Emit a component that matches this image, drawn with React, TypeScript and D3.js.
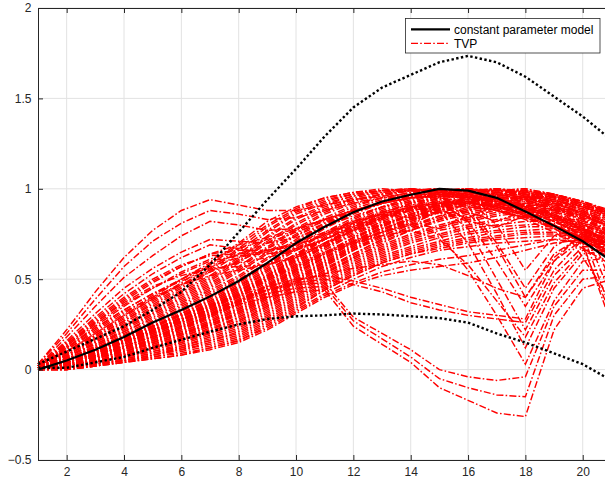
import { useEffect, useRef } from 'react';
import * as d3 from 'd3';

// horizon (x axis) and tick marks
const horizon = [1, 2, 3, 4, 5, 6, 7, 8, 9, 10, 11, 12, 13, 14, 15, 16, 17, 18, 19, 20, 21];
const xTicks = [2, 4, 6, 8, 10, 12, 14, 16, 18, 20];
const yTicks = [-0.5, 0, 0.5, 1, 1.5, 2];
const legendLabels = ['constant parameter model', 'TVP'];

// constant parameter model + its bands (black)
const constantModel = [0, 0.05, 0.11, 0.18, 0.26, 0.33, 0.405, 0.49, 0.59, 0.7, 0.79, 0.87, 0.93, 0.967, 1.0, 0.99, 0.95, 0.875, 0.795, 0.71, 0.6];
const upperBand = [0.03, 0.1, 0.17, 0.24, 0.33, 0.43, 0.58, 0.76, 0.94, 1.11, 1.29, 1.45, 1.56, 1.63, 1.7, 1.735, 1.7, 1.62, 1.51, 1.4, 1.27];
const lowerBand = [0.01, 0.01, 0.04, 0.07, 0.12, 0.165, 0.21, 0.25, 0.28, 0.295, 0.3, 0.31, 0.305, 0.295, 0.285, 0.26, 0.2, 0.15, 0.09, 0.03, -0.06];

const tvpMain = [
  [0.04, 0.1, 0.2, 0.3, 0.4, 0.5, 0.59, 0.7, 0.82, 0.9, 0.95, 0.98, 1.0, 0.99, 0.97, 0.94, 0.9, 0.85, 0.79, 0.72, 0.64],
  [0.03, 0.09, 0.19, 0.28, 0.38, 0.47, 0.56, 0.67, 0.79, 0.88, 0.94, 0.97, 0.99, 1.0, 0.98, 0.95, 0.91, 0.86, 0.8, 0.73, 0.65],
  [0.03, 0.09, 0.18, 0.27, 0.36, 0.45, 0.54, 0.64, 0.76, 0.86, 0.92, 0.96, 0.99, 1.0, 0.99, 0.96, 0.92, 0.88, 0.82, 0.75, 0.67],
  [0.03, 0.08, 0.17, 0.25, 0.34, 0.43, 0.51, 0.61, 0.73, 0.83, 0.9, 0.95, 0.98, 1.0, 0.99, 0.97, 0.94, 0.89, 0.84, 0.77, 0.69],
  [0.02, 0.08, 0.16, 0.24, 0.32, 0.41, 0.49, 0.59, 0.7, 0.8, 0.88, 0.94, 0.97, 0.99, 1.0, 0.98, 0.95, 0.91, 0.86, 0.79, 0.71],
  [0.02, 0.07, 0.15, 0.23, 0.31, 0.39, 0.47, 0.56, 0.67, 0.77, 0.86, 0.92, 0.96, 0.99, 1.0, 0.99, 0.96, 0.92, 0.87, 0.81, 0.73],
  [0.02, 0.07, 0.14, 0.21, 0.29, 0.37, 0.45, 0.54, 0.64, 0.74, 0.83, 0.9, 0.95, 0.98, 1.0, 0.99, 0.97, 0.94, 0.89, 0.83, 0.75],
  [0.02, 0.06, 0.13, 0.2, 0.27, 0.35, 0.43, 0.51, 0.61, 0.71, 0.8, 0.88, 0.93, 0.97, 0.99, 1.0, 0.98, 0.95, 0.9, 0.84, 0.77],
  [0.01, 0.06, 0.12, 0.19, 0.26, 0.33, 0.41, 0.49, 0.58, 0.68, 0.78, 0.86, 0.92, 0.96, 0.99, 1.0, 0.99, 0.96, 0.92, 0.86, 0.79],
  [0.01, 0.05, 0.11, 0.18, 0.24, 0.31, 0.39, 0.47, 0.56, 0.66, 0.75, 0.83, 0.9, 0.95, 0.98, 1.0, 0.99, 0.97, 0.93, 0.88, 0.81],
  [0.01, 0.05, 0.11, 0.17, 0.23, 0.3, 0.37, 0.45, 0.53, 0.63, 0.73, 0.81, 0.88, 0.93, 0.97, 0.99, 1.0, 0.98, 0.95, 0.9, 0.83],
  [0.01, 0.04, 0.1, 0.16, 0.22, 0.28, 0.35, 0.43, 0.51, 0.61, 0.7, 0.79, 0.86, 0.92, 0.96, 0.98, 1.0, 0.99, 0.96, 0.91, 0.85],
  [0.01, 0.04, 0.09, 0.15, 0.2, 0.26, 0.33, 0.41, 0.49, 0.58, 0.68, 0.77, 0.84, 0.9, 0.95, 0.98, 0.99, 1.0, 0.97, 0.92, 0.86],
  [0.01, 0.04, 0.08, 0.14, 0.19, 0.25, 0.31, 0.39, 0.47, 0.56, 0.66, 0.75, 0.82, 0.88, 0.93, 0.96, 0.98, 0.99, 0.97, 0.93, 0.87],
  [0.0, 0.03, 0.08, 0.13, 0.18, 0.23, 0.3, 0.37, 0.45, 0.54, 0.63, 0.72, 0.8, 0.86, 0.91, 0.95, 0.97, 0.98, 0.96, 0.92, 0.87],
  [0.0, 0.03, 0.07, 0.12, 0.16, 0.22, 0.28, 0.35, 0.43, 0.52, 0.61, 0.7, 0.78, 0.84, 0.89, 0.93, 0.96, 0.97, 0.95, 0.91, 0.86],
  [0.0, 0.03, 0.06, 0.11, 0.15, 0.2, 0.26, 0.33, 0.41, 0.5, 0.59, 0.68, 0.76, 0.82, 0.87, 0.91, 0.94, 0.95, 0.94, 0.9, 0.85],
  [0.0, 0.02, 0.06, 0.1, 0.14, 0.19, 0.25, 0.31, 0.39, 0.48, 0.57, 0.66, 0.73, 0.79, 0.84, 0.88, 0.91, 0.93, 0.92, 0.89, 0.84],
  [0.0, 0.02, 0.05, 0.09, 0.13, 0.17, 0.23, 0.29, 0.37, 0.46, 0.55, 0.63, 0.71, 0.77, 0.82, 0.86, 0.89, 0.91, 0.9, 0.87, 0.82],
  [0.0, 0.02, 0.05, 0.08, 0.12, 0.16, 0.21, 0.27, 0.35, 0.44, 0.53, 0.61, 0.68, 0.74, 0.79, 0.83, 0.86, 0.88, 0.88, 0.85, 0.8],
  [0.0, 0.01, 0.04, 0.07, 0.11, 0.15, 0.2, 0.25, 0.33, 0.42, 0.51, 0.59, 0.66, 0.72, 0.77, 0.8, 0.83, 0.85, 0.85, 0.82, 0.77],
  [0.0, 0.01, 0.04, 0.07, 0.1, 0.13, 0.18, 0.23, 0.31, 0.4, 0.49, 0.57, 0.64, 0.7, 0.74, 0.78, 0.8, 0.82, 0.82, 0.8, 0.75],
  [0.0, 0.01, 0.03, 0.06, 0.09, 0.12, 0.16, 0.21, 0.29, 0.38, 0.47, 0.55, 0.62, 0.67, 0.71, 0.75, 0.77, 0.79, 0.79, 0.77, 0.72],
  [0.0, 0.0, 0.03, 0.05, 0.08, 0.11, 0.15, 0.19, 0.27, 0.36, 0.45, 0.53, 0.6, 0.65, 0.69, 0.72, 0.74, 0.76, 0.76, 0.74, 0.7],
  [0.0, 0.0, 0.02, 0.04, 0.07, 0.1, 0.13, 0.17, 0.25, 0.34, 0.44, 0.52, 0.59, 0.64, 0.67, 0.7, 0.72, 0.73, 0.74, 0.72, 0.68],
  [0.0, 0.0, 0.02, 0.04, 0.06, 0.08, 0.12, 0.16, 0.24, 0.33, 0.42, 0.5, 0.57, 0.62, 0.66, 0.68, 0.7, 0.71, 0.72, 0.7, 0.66],
  [0.0, 0.0, 0.02, 0.04, 0.06, 0.08, 0.11, 0.15, 0.22, 0.31, 0.4, 0.47, 0.52, 0.55, 0.57, 0.59, 0.62, 0.66, 0.7, 0.72, 0.7],
  [0.0, 0.01, 0.03, 0.05, 0.07, 0.09, 0.12, 0.16, 0.23, 0.32, 0.41, 0.48, 0.54, 0.58, 0.61, 0.63, 0.66, 0.69, 0.72, 0.73, 0.7],
];

const tvpMainB = [
  [0.03, 0.1, 0.19, 0.29, 0.39, 0.48, 0.58, 0.69, 0.8, 0.89, 0.95, 0.98, 0.99, 1.0, 0.98, 0.95, 0.91, 0.86, 0.8, 0.72, 0.63],
  [0.03, 0.09, 0.18, 0.27, 0.37, 0.46, 0.55, 0.66, 0.77, 0.87, 0.93, 0.97, 0.99, 0.99, 0.98, 0.96, 0.93, 0.88, 0.82, 0.74, 0.66],
  [0.02, 0.08, 0.17, 0.26, 0.35, 0.44, 0.52, 0.62, 0.74, 0.84, 0.91, 0.96, 0.98, 0.99, 0.99, 0.97, 0.94, 0.9, 0.85, 0.78, 0.7],
  [0.02, 0.08, 0.16, 0.24, 0.33, 0.42, 0.5, 0.6, 0.71, 0.81, 0.89, 0.94, 0.97, 0.99, 1.0, 0.98, 0.95, 0.91, 0.86, 0.8, 0.72],
  [0.02, 0.07, 0.15, 0.23, 0.31, 0.4, 0.48, 0.57, 0.68, 0.78, 0.87, 0.93, 0.97, 0.99, 1.0, 0.99, 0.96, 0.93, 0.88, 0.82, 0.74],
  [0.02, 0.07, 0.14, 0.22, 0.3, 0.38, 0.46, 0.55, 0.65, 0.75, 0.84, 0.91, 0.95, 0.98, 0.99, 1.0, 0.97, 0.94, 0.89, 0.83, 0.76],
  [0.01, 0.06, 0.13, 0.21, 0.28, 0.36, 0.44, 0.52, 0.62, 0.72, 0.81, 0.89, 0.94, 0.97, 0.99, 1.0, 0.98, 0.95, 0.91, 0.85, 0.78],
  [0.01, 0.06, 0.12, 0.19, 0.26, 0.34, 0.42, 0.5, 0.59, 0.69, 0.79, 0.87, 0.92, 0.96, 0.98, 0.99, 0.99, 0.97, 0.92, 0.87, 0.8],
  [0.01, 0.05, 0.12, 0.18, 0.25, 0.32, 0.4, 0.48, 0.57, 0.67, 0.76, 0.84, 0.9, 0.95, 0.98, 0.99, 1.0, 0.97, 0.94, 0.89, 0.82],
  [0.01, 0.05, 0.11, 0.17, 0.24, 0.31, 0.38, 0.46, 0.55, 0.64, 0.74, 0.82, 0.89, 0.94, 0.97, 0.99, 1.0, 0.98, 0.95, 0.9, 0.84],
  [0.01, 0.05, 0.1, 0.16, 0.22, 0.29, 0.36, 0.44, 0.52, 0.62, 0.72, 0.8, 0.87, 0.92, 0.96, 0.98, 0.99, 0.99, 0.96, 0.91, 0.85],
  [0.01, 0.04, 0.09, 0.15, 0.21, 0.27, 0.34, 0.42, 0.5, 0.6, 0.69, 0.78, 0.85, 0.91, 0.95, 0.97, 0.99, 1.0, 0.97, 0.92, 0.86],
  [0.0, 0.04, 0.09, 0.14, 0.2, 0.26, 0.32, 0.4, 0.48, 0.57, 0.67, 0.76, 0.83, 0.89, 0.94, 0.97, 0.99, 0.99, 0.97, 0.93, 0.87],
  [0.0, 0.03, 0.08, 0.13, 0.18, 0.24, 0.3, 0.38, 0.46, 0.55, 0.64, 0.73, 0.81, 0.87, 0.92, 0.95, 0.97, 0.98, 0.97, 0.93, 0.88],
  [0.0, 0.03, 0.07, 0.12, 0.17, 0.22, 0.29, 0.36, 0.44, 0.53, 0.62, 0.71, 0.79, 0.85, 0.9, 0.94, 0.96, 0.97, 0.96, 0.92, 0.87],
  [0.0, 0.03, 0.07, 0.11, 0.16, 0.21, 0.27, 0.34, 0.42, 0.51, 0.6, 0.69, 0.77, 0.83, 0.88, 0.92, 0.95, 0.96, 0.95, 0.91, 0.86],
  [0.0, 0.02, 0.06, 0.1, 0.15, 0.2, 0.25, 0.32, 0.4, 0.49, 0.58, 0.67, 0.74, 0.8, 0.85, 0.89, 0.92, 0.94, 0.93, 0.9, 0.85],
  [0.0, 0.02, 0.05, 0.09, 0.13, 0.18, 0.24, 0.3, 0.38, 0.47, 0.56, 0.64, 0.72, 0.78, 0.83, 0.87, 0.9, 0.92, 0.91, 0.88, 0.83],
  [0.0, 0.02, 0.05, 0.08, 0.12, 0.17, 0.22, 0.28, 0.36, 0.45, 0.54, 0.62, 0.69, 0.75, 0.8, 0.84, 0.87, 0.89, 0.89, 0.86, 0.81],
  [0.0, 0.01, 0.04, 0.08, 0.11, 0.15, 0.2, 0.26, 0.34, 0.43, 0.52, 0.6, 0.67, 0.73, 0.78, 0.82, 0.85, 0.87, 0.87, 0.84, 0.79],
  [0.0, 0.01, 0.04, 0.07, 0.1, 0.14, 0.19, 0.24, 0.32, 0.41, 0.5, 0.58, 0.65, 0.71, 0.75, 0.79, 0.82, 0.84, 0.84, 0.81, 0.76],
  [0.0, 0.01, 0.03, 0.06, 0.09, 0.13, 0.17, 0.22, 0.3, 0.39, 0.48, 0.56, 0.63, 0.68, 0.73, 0.76, 0.79, 0.8, 0.81, 0.78, 0.74],
  [0.0, 0.0, 0.03, 0.05, 0.08, 0.12, 0.16, 0.2, 0.28, 0.37, 0.46, 0.54, 0.61, 0.66, 0.7, 0.73, 0.76, 0.77, 0.78, 0.76, 0.71],
  [0.0, 0.0, 0.02, 0.05, 0.08, 0.11, 0.14, 0.18, 0.26, 0.35, 0.44, 0.52, 0.59, 0.64, 0.68, 0.71, 0.73, 0.75, 0.75, 0.73, 0.69],
];

const tvpNoisy = [
  [0.01, 0.05, 0.11, 0.17, 0.24, 0.31, 0.38, 0.46, 0.55, 0.64, 0.72, 0.8, 0.84, 0.9, 0.86, 0.92, 0.95, 0.9, 0.93, 0.86, 0.78],
  [0.01, 0.04, 0.09, 0.15, 0.21, 0.27, 0.34, 0.42, 0.51, 0.6, 0.68, 0.74, 0.82, 0.8, 0.88, 0.84, 0.91, 0.96, 0.9, 0.84, 0.76],
  [0.02, 0.06, 0.12, 0.19, 0.26, 0.33, 0.4, 0.48, 0.58, 0.67, 0.75, 0.82, 0.86, 0.84, 0.9, 0.93, 0.88, 0.92, 0.94, 0.88, 0.8],
  [0.0, 0.03, 0.07, 0.12, 0.17, 0.23, 0.29, 0.36, 0.45, 0.54, 0.62, 0.7, 0.76, 0.81, 0.78, 0.85, 0.88, 0.84, 0.89, 0.85, 0.79],
  [0.01, 0.05, 0.1, 0.16, 0.22, 0.29, 0.36, 0.44, 0.52, 0.62, 0.7, 0.77, 0.8, 0.86, 0.91, 0.87, 0.82, 0.88, 0.92, 0.87, 0.8],
  [0.01, 0.04, 0.08, 0.13, 0.18, 0.24, 0.3, 0.37, 0.46, 0.55, 0.64, 0.71, 0.78, 0.83, 0.87, 0.82, 0.79, 0.85, 0.9, 0.86, 0.79],
];

const tvpEarly = [
  [0.03, 0.22, 0.43, 0.62, 0.77, 0.88, 0.94, 0.91, 0.88, 0.88, 0.91, 0.94, 0.96, 0.97, 0.97, 0.96, 0.94, 0.9, 0.85, 0.78, 0.7],
  [0.03, 0.2, 0.39, 0.57, 0.71, 0.81, 0.88, 0.86, 0.83, 0.84, 0.88, 0.92, 0.95, 0.96, 0.95, 0.93, 0.89, 0.84, 0.78, 0.7, 0.62],
  [0.02, 0.18, 0.35, 0.51, 0.63, 0.74, 0.82, 0.8, 0.77, 0.78, 0.83, 0.88, 0.92, 0.95, 0.96, 0.95, 0.92, 0.88, 0.82, 0.74, 0.65],
  [0.02, 0.16, 0.31, 0.45, 0.56, 0.65, 0.72, 0.71, 0.7, 0.73, 0.79, 0.85, 0.9, 0.93, 0.94, 0.93, 0.9, 0.85, 0.78, 0.7, 0.61],
  [0.02, 0.15, 0.29, 0.42, 0.53, 0.62, 0.69, 0.67, 0.64, 0.66, 0.72, 0.79, 0.85, 0.89, 0.91, 0.91, 0.88, 0.83, 0.76, 0.67, 0.58],
  [0.02, 0.14, 0.27, 0.39, 0.49, 0.57, 0.64, 0.66, 0.66, 0.69, 0.74, 0.81, 0.86, 0.9, 0.92, 0.92, 0.9, 0.86, 0.8, 0.72, 0.63],
  [0.01, 0.13, 0.25, 0.36, 0.45, 0.53, 0.6, 0.63, 0.64, 0.67, 0.72, 0.78, 0.84, 0.88, 0.9, 0.9, 0.88, 0.84, 0.79, 0.72, 0.64],
  [0.01, 0.12, 0.23, 0.33, 0.42, 0.49, 0.55, 0.59, 0.62, 0.66, 0.72, 0.79, 0.85, 0.89, 0.92, 0.93, 0.92, 0.89, 0.84, 0.77, 0.69],
  [0.02, 0.14, 0.26, 0.37, 0.46, 0.52, 0.56, 0.57, 0.58, 0.62, 0.69, 0.77, 0.83, 0.88, 0.91, 0.92, 0.9, 0.87, 0.82, 0.75, 0.67],
  [0.01, 0.11, 0.22, 0.32, 0.4, 0.47, 0.52, 0.55, 0.58, 0.63, 0.7, 0.77, 0.84, 0.89, 0.92, 0.94, 0.93, 0.9, 0.85, 0.78, 0.7],
  [0.02, 0.13, 0.26, 0.38, 0.48, 0.57, 0.64, 0.69, 0.73, 0.78, 0.83, 0.88, 0.92, 0.95, 0.96, 0.95, 0.93, 0.89, 0.83, 0.76, 0.67],
  [0.02, 0.12, 0.24, 0.35, 0.45, 0.54, 0.61, 0.67, 0.72, 0.77, 0.83, 0.88, 0.92, 0.95, 0.96, 0.96, 0.94, 0.9, 0.84, 0.77, 0.68],
  [0.01, 0.11, 0.21, 0.31, 0.41, 0.5, 0.58, 0.64, 0.7, 0.76, 0.82, 0.88, 0.92, 0.95, 0.97, 0.96, 0.94, 0.9, 0.85, 0.78, 0.69],
  [0.01, 0.12, 0.23, 0.33, 0.42, 0.5, 0.57, 0.62, 0.66, 0.7, 0.76, 0.82, 0.87, 0.91, 0.93, 0.93, 0.91, 0.87, 0.82, 0.75, 0.67],
  [0.02, 0.15, 0.28, 0.4, 0.5, 0.58, 0.63, 0.64, 0.65, 0.69, 0.75, 0.81, 0.86, 0.9, 0.92, 0.92, 0.9, 0.86, 0.8, 0.73, 0.65],
  [0.01, 0.1, 0.2, 0.3, 0.39, 0.47, 0.54, 0.6, 0.67, 0.74, 0.81, 0.87, 0.92, 0.95, 0.97, 0.97, 0.95, 0.91, 0.86, 0.79, 0.7],
];

const tvpDip = [
  [0.01, 0.06, 0.12, 0.18, 0.24, 0.3, 0.35, 0.4, 0.44, 0.47, 0.48, 0.29, 0.2, 0.11, 0.0, -0.04, -0.06, -0.04, 0.35, 0.55, 0.55],
  [0.01, 0.05, 0.11, 0.17, 0.22, 0.28, 0.33, 0.38, 0.42, 0.45, 0.46, 0.27, 0.17, 0.07, -0.05, -0.1, -0.14, -0.15, 0.3, 0.5, 0.52],
  [0.01, 0.05, 0.1, 0.15, 0.21, 0.26, 0.31, 0.36, 0.4, 0.43, 0.44, 0.24, 0.14, 0.04, -0.1, -0.17, -0.24, -0.26, 0.22, 0.45, 0.5],
];

const tvpSlide = [
  [0.01, 0.06, 0.12, 0.18, 0.24, 0.3, 0.36, 0.41, 0.46, 0.5, 0.52, 0.49, 0.45, 0.4, 0.36, 0.32, 0.3, 0.28, 0.6, 0.76, 0.72],
  [0.01, 0.05, 0.11, 0.16, 0.22, 0.28, 0.33, 0.39, 0.44, 0.48, 0.5, 0.47, 0.43, 0.37, 0.33, 0.3, 0.28, 0.26, 0.55, 0.72, 0.7],
  [0.01, 0.05, 0.1, 0.15, 0.2, 0.26, 0.32, 0.38, 0.44, 0.49, 0.53, 0.56, 0.58, 0.6, 0.58, 0.52, 0.45, 0.4, 0.62, 0.75, 0.72],
];

const tvpVee = [
  [0.01, 0.05, 0.1, 0.16, 0.22, 0.28, 0.35, 0.42, 0.5, 0.58, 0.65, 0.71, 0.76, 0.8, 0.75, 0.55, 0.3, 0.03, 0.38, 0.6, 0.62],
  [0.01, 0.05, 0.1, 0.16, 0.22, 0.28, 0.35, 0.43, 0.52, 0.61, 0.7, 0.78, 0.85, 0.9, 0.88, 0.7, 0.42, 0.12, 0.45, 0.64, 0.66],
  [0.01, 0.04, 0.08, 0.13, 0.18, 0.24, 0.3, 0.37, 0.46, 0.55, 0.64, 0.73, 0.8, 0.86, 0.9, 0.78, 0.5, 0.22, 0.52, 0.68, 0.68],
  [0.01, 0.04, 0.09, 0.15, 0.21, 0.27, 0.33, 0.41, 0.5, 0.59, 0.68, 0.77, 0.84, 0.9, 0.93, 0.82, 0.6, 0.35, 0.6, 0.72, 0.7],
  [0.01, 0.05, 0.11, 0.17, 0.23, 0.3, 0.37, 0.45, 0.54, 0.63, 0.72, 0.8, 0.87, 0.92, 0.95, 0.9, 0.7, 0.45, 0.68, 0.77, 0.72],
  [0.0, 0.03, 0.07, 0.12, 0.17, 0.23, 0.29, 0.36, 0.44, 0.53, 0.62, 0.71, 0.79, 0.86, 0.91, 0.94, 0.8, 0.55, 0.74, 0.8, 0.74],
  [0.0, 0.04, 0.08, 0.13, 0.19, 0.25, 0.31, 0.38, 0.47, 0.56, 0.65, 0.73, 0.8, 0.85, 0.89, 0.87, 0.68, 0.4, 0.64, 0.74, 0.7],
  [0.01, 0.05, 0.1, 0.15, 0.21, 0.27, 0.34, 0.41, 0.49, 0.57, 0.64, 0.7, 0.74, 0.77, 0.72, 0.58, 0.38, 0.18, 0.48, 0.66, 0.66],
];

const tvpLate = [
  [0.0, 0.02, 0.05, 0.09, 0.13, 0.18, 0.24, 0.31, 0.39, 0.48, 0.57, 0.66, 0.74, 0.81, 0.87, 0.92, 0.96, 0.99, 0.9, 0.7, 0.25],
  [0.0, 0.03, 0.06, 0.1, 0.15, 0.2, 0.26, 0.33, 0.41, 0.5, 0.59, 0.68, 0.76, 0.83, 0.89, 0.93, 0.96, 0.97, 0.93, 0.75, 0.32],
  [0.0, 0.02, 0.05, 0.08, 0.12, 0.17, 0.22, 0.29, 0.37, 0.46, 0.55, 0.64, 0.72, 0.79, 0.85, 0.9, 0.94, 0.96, 0.95, 0.8, 0.4],
  [0.0, 0.03, 0.07, 0.11, 0.16, 0.21, 0.27, 0.34, 0.42, 0.51, 0.6, 0.69, 0.77, 0.84, 0.89, 0.93, 0.95, 0.94, 0.88, 0.68, 0.3],
  [0.0, 0.02, 0.06, 0.1, 0.14, 0.19, 0.25, 0.32, 0.4, 0.49, 0.58, 0.67, 0.75, 0.82, 0.88, 0.92, 0.95, 0.95, 0.85, 0.62, 0.38],
  [0.0, 0.01, 0.04, 0.08, 0.12, 0.16, 0.21, 0.27, 0.35, 0.44, 0.53, 0.62, 0.7, 0.77, 0.83, 0.88, 0.92, 0.95, 0.96, 0.85, 0.48],
];

const FONT = '"Liberation Sans", Arial, Helvetica, sans-serif';
const AXIS_CLR = '#262626';
const RED_DASH = '7,2.2,1.6,2.2';

export default function App() {
  const svgRef = useRef<SVGSVGElement>(null);

  useEffect(() => {
    const width = 605, height = 479;
    const PLOT = { left: 38, right: 611.4, top: 8, bottom: 460 };

    const svg = d3.select(svgRef.current);
    svg.selectAll('*').remove();
    svg.attr('width', width).attr('height', height);

    const xScale = d3.scaleLinear().domain([1, 21]).range([PLOT.left, PLOT.right]);
    const yScale = d3.scaleLinear().domain([-0.5, 2]).range([PLOT.bottom, PLOT.top]);

    svg.append('rect').attr('width', width).attr('height', height).attr('fill', '#fff');

    // grid
    const grid = svg.append('g').attr('stroke', '#e2e2e2').attr('stroke-width', 1);
    xTicks.forEach(t => grid.append('line').attr('x1', xScale(t)).attr('x2', xScale(t)).attr('y1', PLOT.top).attr('y2', PLOT.bottom));
    yTicks.forEach(t => grid.append('line').attr('x1', PLOT.left).attr('x2', PLOT.right).attr('y1', yScale(t)).attr('y2', yScale(t)));

    const line = d3.line<number>().x((_, i) => xScale(horizon[i])).y(d => yScale(d));

    // TVP curves
    const allTvp = [...tvpMain, ...tvpMainB, ...tvpNoisy, ...tvpEarly, ...tvpDip, ...tvpSlide, ...tvpVee, ...tvpLate];
    svg.append('g').selectAll('path').data(allTvp).join('path')
      .attr('d', d => line(d))
      .attr('fill', 'none').attr('stroke', '#ff0000').attr('stroke-width', 1.45)
      .attr('stroke-dasharray', RED_DASH);

    // constant parameter model and bands
    [upperBand, lowerBand].forEach(band => {
      svg.append('path').datum(band).attr('d', line)
        .attr('fill', 'none').attr('stroke', '#000').attr('stroke-width', 2.4)
        .attr('stroke-dasharray', '2.4,2.4');
    });
    svg.append('path').datum(constantModel).attr('d', line)
      .attr('fill', 'none').attr('stroke', '#000').attr('stroke-width', 2.2).attr('stroke-linejoin', 'round');

    const styleAxis = (ax: any) => {
      ax.select('.domain').attr('stroke', AXIS_CLR).attr('stroke-width', 1);
      ax.selectAll('.tick line').attr('stroke', AXIS_CLR);
      ax.selectAll('.tick text').attr('fill', AXIS_CLR).attr('font-size', 12).attr('font-family', FONT);
    };

    svg.append('g').attr('transform', `translate(0,${PLOT.bottom})`)
      .call(d3.axisBottom(xScale).tickValues(xTicks).tickFormat(d3.format('d')).tickSizeInner(-5).tickSizeOuter(0).tickPadding(7.5))
      .call(styleAxis);
    svg.append('g').attr('transform', `translate(0,${PLOT.top})`)
      .call(d3.axisTop(xScale).tickValues(xTicks).tickFormat(() => '').tickSizeInner(-5).tickSizeOuter(0))
      .call(styleAxis);
    svg.append('g').attr('transform', `translate(${PLOT.left},0)`)
      .call(d3.axisLeft(yScale).tickValues(yTicks).tickFormat(d3.format('')).tickSizeInner(-5).tickSizeOuter(0).tickPadding(6.5))
      .call(styleAxis);

    // legend
    const lg = svg.append('g');
    lg.append('rect').attr('x', 405.5).attr('y', 18.5).attr('width', 194.5).attr('height', 34.5)
      .attr('fill', '#fff').attr('stroke', AXIS_CLR).attr('stroke-width', 0.8);
    const rows = [29.3, 43.3];
    lg.append('line').attr('x1', 411).attr('x2', 450).attr('y1', rows[0]).attr('y2', rows[0])
      .attr('stroke', '#000').attr('stroke-width', 2.2);
    lg.append('line').attr('x1', 411).attr('x2', 450).attr('y1', rows[1]).attr('y2', rows[1])
      .attr('stroke', '#ff0000').attr('stroke-width', 1.25).attr('stroke-dasharray', RED_DASH);
    legendLabels.forEach((label, i) => {
      lg.append('text').attr('x', 454).attr('y', rows[i]).attr('dy', '0.35em')
        .attr('font-size', 12).attr('font-family', FONT).attr('fill', '#000').text(label);
    });
  }, []);

  return (
    <svg ref={svgRef} style={{ position: 'fixed', left: 0, top: 0, display: 'block' }} />
  );
}
